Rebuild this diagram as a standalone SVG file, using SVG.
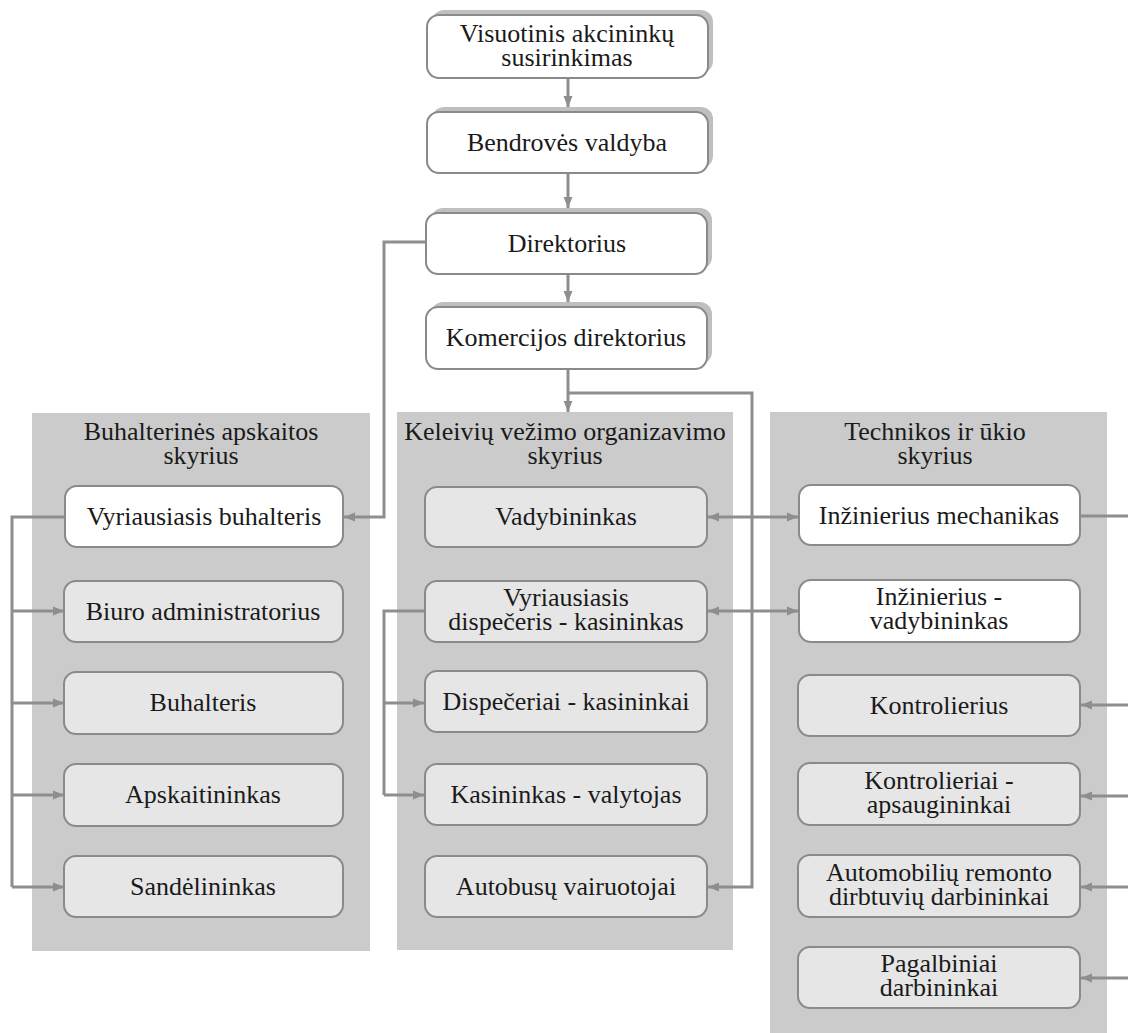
<svg xmlns="http://www.w3.org/2000/svg" width="1128" height="1033" viewBox="0 0 1128 1033">
<defs>
<marker id="ah" markerUnits="userSpaceOnUse" markerWidth="12" markerHeight="10" refX="11" refY="5" orient="auto-start-reverse">
<path d="M0,0.5 L11,5 L0,9.5 z" fill="#8e8e8e"/>
</marker>
</defs>
<style>
text{font-family:"Liberation Serif","Times New Roman",Tinos,"Nimbus Roman","Nimbus Roman No9 L",FreeSerif,"DejaVu Serif","Noto Serif",serif;font-size:26px;fill:#1a1a1a;text-anchor:middle}
.panel{fill:#cbcbcb}
.shadow{fill:#bfbfbf}
.bw{fill:#ffffff;stroke:#8a8a8a;stroke-width:2}
.bg{fill:#e6e6e6;stroke:#8a8a8a;stroke-width:2}
.c{fill:none;stroke:#8e8e8e;stroke-width:3}
.a{fill:none;stroke:#8e8e8e;stroke-width:3;marker-end:url(#ah)}
.d{fill:none;stroke:#8e8e8e;stroke-width:3;marker-start:url(#ah);marker-end:url(#ah)}
</style>
<rect width="1128" height="1033" fill="#ffffff"/>

<g id="panel-buh">
<rect class="panel" x="32" y="413" width="338" height="538"/>
<text x="201" y="440">Buhalterinės apskaitos</text>
<text x="201" y="464">skyrius</text>
</g>
<g id="panel-kel">
<rect class="panel" x="397" y="412" width="336" height="538"/>
<text x="565" y="440">Keleivių vežimo organizavimo</text>
<text x="565" y="464">skyrius</text>
</g>
<g id="panel-tech">
<rect class="panel" x="770" y="412" width="337" height="621"/>
<text x="935" y="440">Technikos ir ūkio</text>
<text x="935" y="464">skyrius</text>
</g>

<g id="connectors">
<path class="a" d="M568,78 V107"/>
<path class="a" d="M568,173 V208"/>
<path class="a" d="M568,274 V302"/>
<path class="a" d="M568,369 V412"/>
<path class="a" d="M568,393 H752 V887 H708"/>
<path class="a" d="M426,242 H384 V517 H344"/>
<path class="c" d="M65,517 H12 V887"/>
<path class="a" d="M12,611 H64"/>
<path class="a" d="M12,703 H64"/>
<path class="a" d="M12,795 H64"/>
<path class="a" d="M12,887 H64"/>
<path class="c" d="M425,611 H384 V795"/>
<path class="a" d="M384,703 H424"/>
<path class="a" d="M384,795 H424"/>
<path class="d" d="M708,517 H798"/>
<path class="d" d="M708,611 H798"/>
<path class="c" d="M1080,516 H1128"/>
<path class="a" d="M1128,705 H1081"/>
<path class="a" d="M1128,796 H1081"/>
<path class="a" d="M1128,887 H1081"/>
<path class="a" d="M1128,978 H1081"/>
</g>

<g id="n-visuotinis">
<rect class="shadow" x="432" y="10" width="281" height="63" rx="12"/>
<rect class="bw" x="427" y="15" width="281" height="63" rx="12"/>
<text x="567" y="42">Visuotinis akcininkų</text>
<text x="567" y="66">susirinkimas</text>
</g>
<g id="n-valdyba">
<rect class="shadow" x="432" y="107" width="281" height="61" rx="12"/>
<rect class="bw" x="427" y="112" width="281" height="61" rx="12"/>
<text x="567" y="151">Bendrovės valdyba</text>
</g>
<g id="n-direktorius">
<rect class="shadow" x="431" y="208" width="281" height="61" rx="12"/>
<rect class="bw" x="426" y="213" width="281" height="61" rx="12"/>
<text x="567" y="252">Direktorius</text>
</g>
<g id="n-komercijos">
<rect class="shadow" x="431" y="302" width="281" height="62" rx="12"/>
<rect class="bw" x="426" y="307" width="281" height="62" rx="12"/>
<text x="566" y="346">Komercijos direktorius</text>
</g>

<g id="n-vyr-buh">
<rect class="bw" x="65" y="486" width="278" height="61" rx="12"/>
<text x="204" y="525">Vyriausiasis buhalteris</text>
</g>
<g id="n-biuro">
<rect class="bg" x="64" y="581" width="279" height="61" rx="12"/>
<text x="203" y="620">Biuro administratorius</text>
</g>
<g id="n-buhalteris">
<rect class="bg" x="64" y="672" width="279" height="62" rx="12"/>
<text x="203" y="711">Buhalteris</text>
</g>
<g id="n-apskaitininkas">
<rect class="bg" x="64" y="764" width="279" height="62" rx="12"/>
<text x="203" y="803">Apskaitininkas</text>
</g>
<g id="n-sandelininkas">
<rect class="bg" x="64" y="856" width="279" height="61" rx="12"/>
<text x="203" y="895">Sandėlininkas</text>
</g>

<g id="n-vadybininkas">
<rect class="bg" x="425" y="487" width="282" height="60" rx="12"/>
<text x="566" y="525">Vadybininkas</text>
</g>
<g id="n-vyr-disp">
<rect class="bg" x="425" y="581" width="282" height="61" rx="12"/>
<text x="566" y="606">Vyriausiasis</text>
<text x="566" y="630">dispečeris - kasininkas</text>
</g>
<g id="n-dispeceriai">
<rect class="bg" x="425" y="671" width="282" height="61" rx="12"/>
<text x="566" y="710">Dispečeriai - kasininkai</text>
</g>
<g id="n-kasininkas">
<rect class="bg" x="425" y="764" width="282" height="61" rx="12"/>
<text x="566" y="803">Kasininkas - valytojas</text>
</g>
<g id="n-autobusu">
<rect class="bg" x="425" y="856" width="282" height="61" rx="12"/>
<text x="566" y="895">Autobusų vairuotojai</text>
</g>

<g id="n-inz-mech">
<rect class="bw" x="799" y="485" width="281" height="60" rx="12"/>
<text x="939" y="524">Inžinierius mechanikas</text>
</g>
<g id="n-inz-vad">
<rect class="bw" x="799" y="580" width="281" height="62" rx="12"/>
<text x="939" y="605">Inžinierius -</text>
<text x="939" y="629">vadybininkas</text>
</g>
<g id="n-kontrolierius">
<rect class="bg" x="798" y="675" width="282" height="61" rx="12"/>
<text x="939" y="714">Kontrolierius</text>
</g>
<g id="n-kontrolieriai">
<rect class="bg" x="798" y="763" width="282" height="62" rx="12"/>
<text x="939" y="789">Kontrolieriai -</text>
<text x="939" y="813">apsaugininkai</text>
</g>
<g id="n-automobiliu">
<rect class="bg" x="798" y="855" width="282" height="62" rx="12"/>
<text x="939" y="881">Automobilių remonto</text>
<text x="939" y="905">dirbtuvių darbininkai</text>
</g>
<g id="n-pagalbiniai">
<rect class="bg" x="798" y="947" width="282" height="61" rx="12"/>
<text x="939" y="972">Pagalbiniai</text>
<text x="939" y="996">darbininkai</text>
</g>
</svg>
